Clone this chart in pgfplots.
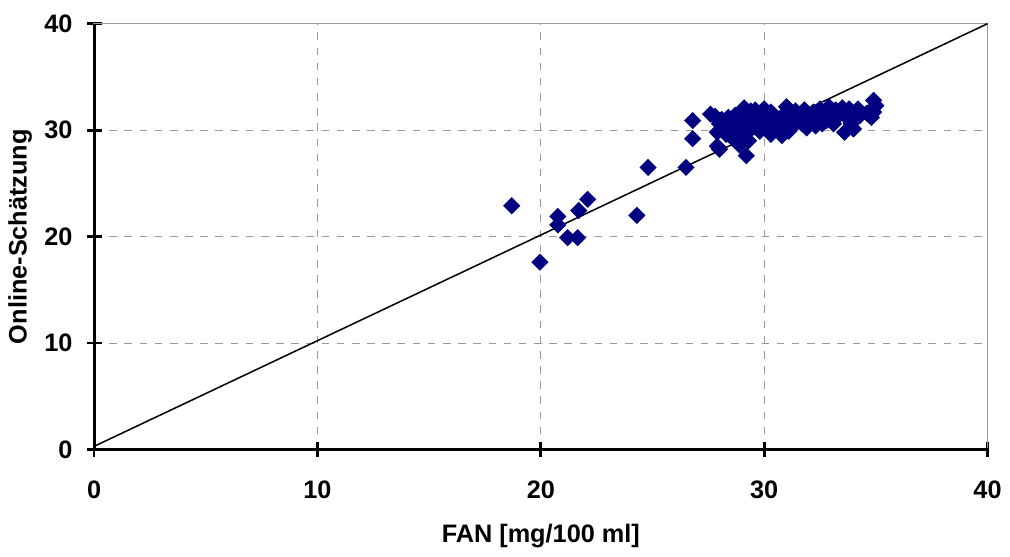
\documentclass[border=0pt]{standalone}
\usepackage{fontspec}
\setmainfont{Liberation Sans}
\usepackage{pgfplots}
\pgfplotsset{compat=1.18}
\definecolor{navy}{HTML}{000080}
\begin{document}
\begin{tikzpicture}
\begin{axis}[
    scale only axis,
    width=12.42cm, height=5.92cm,
    xmin=0, xmax=40, ymin=0, ymax=40,
    xtick={0,10,20,30,40}, ytick={0,10,20,30,40},
    xtick pos=bottom, ytick pos=left,
    tick align=center,
    major tick length=6pt,
    tick style={black, line width=1.1pt},
    axis line style={gray!80, line width=0.5pt},
    grid=major,
    major grid style={gray!80, dashed, line width=0.4pt},
    /pgf/number format/assume math mode=true,
    ticklabel style={font=\fontsize{10}{12}\selectfont\bfseries},
    xticklabel style={yshift=-6pt},
    yticklabel style={xshift=-2pt},
    label style={font=\fontsize{10}{12}\selectfont\bfseries},
    xlabel={FAN [mg/100 ml]},
    ylabel={Online-Schätzung},
    xlabel style={yshift=-3pt},
    ylabel style={yshift=-2pt},
    clip=false,
]
\addplot[black, line width=0.6pt] coordinates {(0,0.3) (40,40)};
\addplot[only marks, mark=square*, mark size=2.2pt, mark options={rotate=45}, color=navy] coordinates {
(18.7,22.9) (19.96,17.6) (20.76,21.9) (20.76,21.1) (21.2,19.9) (21.65,19.9)
(21.7,22.45) (22.1,23.5) (24.3,22.0) (24.8,26.5) (26.5,26.5) (26.8,30.9) (26.8,29.2)
(27.6,31.5) (27.8,31.3) (27.9,29.8) (28.0,30.6) (28.1,31.0) (28.2,30.2) (28.3,29.6)
(27.9,28.5) (28.0,28.2) (28.4,31.2) (28.5,30.5) (28.6,30.9) (28.6,29.2)
(28.7,31.4) (28.8,30.0) (28.9,30.7) (29.0,31.6) (29.0,29.5) (29.1,32.1) (29.1,30.3)
(29.2,27.6) (29.2,31.0) (29.3,30.6) (29.3,29.0) (29.4,31.8) (29.4,30.1) (28.9,28.6)
(29.5,31.2) (29.5,30.7)
(29.6,31.9) (29.6,30.3) (29.7,31.5) (29.8,30.9) (29.8,29.9) (29.9,31.4) (30.0,32.0)
(30.0,30.5) (30.1,31.2) (30.2,30.0) (30.3,31.7) (30.3,29.6) (30.4,30.8) (30.5,31.3)
(30.6,30.2) (30.7,31.0) (30.8,29.5) (30.9,31.5) (31.0,30.6) (31.0,32.2) (31.1,29.9)
(31.2,31.2) (31.3,30.4) (31.4,31.8) (31.5,30.9)
(31.6,31.4) (31.7,30.6) (31.8,31.9) (31.9,30.2) (32.0,31.3) (32.1,30.8) (32.2,31.7)
(32.3,30.4) (32.4,31.2) (32.5,32.0)
(32.6,30.6) (32.7,31.6) (32.8,30.9) (32.9,32.2) (33.0,31.3) (33.1,30.6) (33.2,31.9)
(33.4,31.5)
(33.6,29.8) (33.7,31.2) (33.8,32.0) (33.9,30.6) (34.0,30.1) (34.1,31.5) (34.3,31.4)
(34.6,31.6) (34.9,32.8) (34.9,31.7) (35.0,32.3) (34.8,31.2) (33.5,32.1) (34.2,32.0)
};
\draw[black, line width=1.2pt] (rel axis cs:0,1) -- (rel axis cs:0,0) -- (rel axis cs:1,0);
\end{axis}
\path (current bounding box.north) ++(0,2.5pt);
\end{tikzpicture}
\end{document}
